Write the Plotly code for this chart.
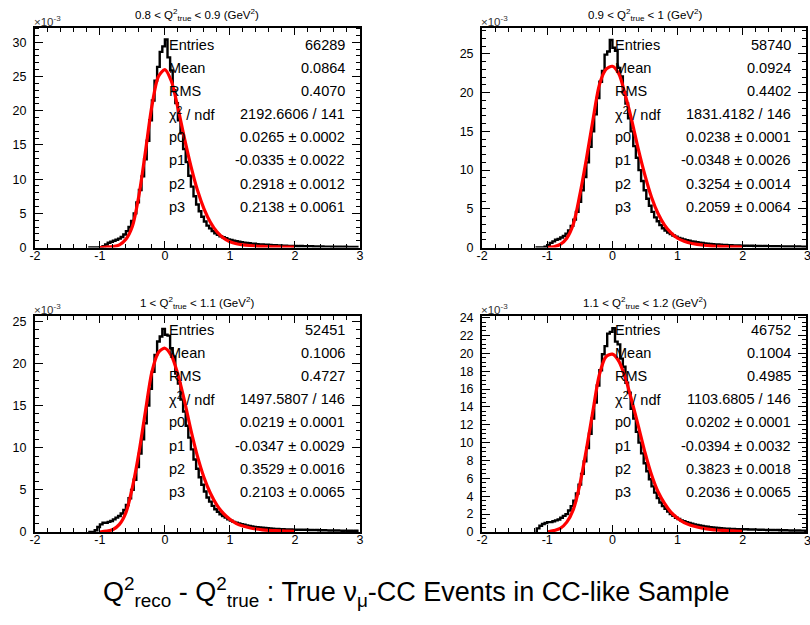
import plotly.graph_objects as go

# ---------------- data (values in units of 1e-3) ----------------
BIN_START = -1.2
BIN_WIDTH = 0.04

TL_COUNTS = [
    0, 0, 0, 0, 0, 0.05, 0.2, 0.45, 0.7, 0.85,
    1.0, 1.15, 1.3, 1.55, 1.9, 2.4, 3.0, 3.9, 5.0, 6.6,
    8.4, 10.4, 12.9, 15.6, 18.6, 21.5, 24.4, 26.4, 28.6, 29.4,
    30.4, 27.8, 25.9, 23.0, 21.1, 18.6, 16.7, 14.4, 12.5, 10.5,
    8.9, 7.5, 6.3, 5.3, 4.5, 3.8, 3.2, 2.8, 2.4, 2.1,
    1.85, 1.65, 1.5, 1.35, 1.2, 1.1, 1.0, 0.92, 0.85, 0.78,
    0.72, 0.68, 0.63, 0.58, 0.55, 0.5, 0.47, 0.44, 0.42, 0.4,
    0.37, 0.35, 0.33, 0.32, 0.3, 0.28, 0.27, 0.25, 0.24, 0.23,
    0.22, 0.2, 0.22, 0.19, 0.2, 0.17, 0.18, 0.16, 0.17, 0.15, 0.16, 0.14, 0.13,
    0.14, 0.12, 0.13, 0.11, 0.12, 0.1, 0.11, 0.09, 0.1, 0.09, 0.08, 0.09,
]
TR_COUNTS = [
    0, 0, 0, 0, 0.1, 0.3, 0.6, 0.8, 1.0, 1.1,
    1.3, 1.5, 1.8, 2.2, 2.8, 3.6, 4.6, 5.9, 7.4, 9.1,
    11.0, 13.0, 15.0, 17.2, 19.3, 21.4, 22.8, 24.9, 25.3, 26.8,
    25.8, 25.4, 23.2, 22.1, 20.1, 18.6, 16.7, 15.0, 13.1, 11.6,
    10.0, 8.6, 7.4, 6.3, 5.4, 4.6, 3.9, 3.4, 2.9, 2.5,
    2.2, 1.95, 1.75, 1.55, 1.4, 1.25, 1.15, 1.05, 0.95, 0.88,
    0.8, 0.74, 0.68, 0.63, 0.58, 0.54, 0.5, 0.47, 0.44, 0.41,
    0.39, 0.37, 0.35, 0.33, 0.31, 0.3, 0.28, 0.27, 0.26, 0.25,
    0.24, 0.25, 0.22, 0.23, 0.21, 0.22, 0.2, 0.19, 0.2, 0.18, 0.18, 0.17, 0.16,
    0.17, 0.15, 0.15, 0.14, 0.14, 0.13, 0.13, 0.12, 0.13, 0.12, 0.11, 0.11,
]
BL_COUNTS = [
    0, 0, 0, 0.2, 0.6, 0.9, 1.1, 1.1, 1.2, 1.3,
    1.5, 1.7, 1.9, 2.2, 2.6, 3.2, 4.0, 5.0, 6.2, 7.7,
    9.3, 11.0, 12.9, 15.0, 17.0, 19.0, 21.0, 22.6, 23.2, 24.1,
    23.4, 23.3, 21.8, 20.8, 18.8, 17.6, 15.7, 14.3, 12.6, 11.2,
    9.8, 8.6, 7.5, 6.5, 5.6, 4.8, 4.1, 3.6, 3.1, 2.7,
    2.4, 2.1, 1.9, 1.7, 1.5, 1.35, 1.2, 1.1, 1.0, 0.92,
    0.85, 0.78, 0.72, 0.66, 0.61, 0.57, 0.53, 0.5, 0.47, 0.44,
    0.41, 0.39, 0.37, 0.35, 0.34, 0.32, 0.31, 0.3, 0.29, 0.28,
    0.27, 0.28, 0.26, 0.25, 0.26, 0.24, 0.23, 0.22, 0.23, 0.21, 0.2, 0.21, 0.19,
    0.18, 0.19, 0.17, 0.17, 0.16, 0.15, 0.16, 0.14, 0.14, 0.13, 0.14, 0.13,
]
BR_COUNTS = [
    0.1, 0.4, 0.7, 0.9, 1.0, 1.1, 1.1, 1.2, 1.3, 1.4,
    1.6, 1.8, 2.0, 2.4, 2.9, 3.5, 4.3, 5.3, 6.5, 7.9,
    9.4, 11.0, 12.7, 14.5, 16.4, 18.1, 19.9, 20.8, 22.2, 22.4,
    22.8, 21.3, 21.0, 19.4, 18.5, 16.7, 15.6, 13.8, 12.7, 11.2,
    10.0, 8.8, 7.7, 6.8, 5.9, 5.1, 4.4, 3.8, 3.3, 2.9,
    2.6, 2.3, 2.0, 1.8, 1.6, 1.45, 1.3, 1.2, 1.1, 1.0,
    0.92, 0.85, 0.78, 0.72, 0.67, 0.62, 0.58, 0.54, 0.5, 0.47,
    0.44, 0.42, 0.4, 0.38, 0.36, 0.34, 0.33, 0.32, 0.31, 0.3,
    0.29, 0.3, 0.28, 0.27, 0.28, 0.26, 0.25, 0.26, 0.24, 0.23, 0.24, 0.22, 0.21,
    0.22, 0.2, 0.19, 0.2, 0.18, 0.17, 0.18, 0.16, 0.16, 0.15, 0.15, 0.14,
]

FIT_X = [-1.0, -0.9, -0.8, -0.7, -0.6, -0.5, -0.4, -0.3, -0.2, -0.1, 0.0,
         0.1, 0.2, 0.3, 0.4, 0.5, 0.6, 0.7, 0.8, 0.9, 1.0,
         1.1, 1.2, 1.3, 1.4, 1.5, 1.6, 1.7, 1.8, 1.9, 2.0]
TL_FIT = [0.0, 0.05, 0.15, 0.4, 1.2, 3.1, 7.6, 14.0, 20.7, 25.0, 26.0,
          24.3, 20.4, 16.0, 11.9, 8.4, 5.7, 3.7, 2.3, 1.4, 0.85,
          0.55, 0.4, 0.3, 0.22, 0.17, 0.13, 0.1, 0.08, 0.06, 0.05]
TR_FIT = [0.0, 0.1, 0.4, 1.2, 3.0, 6.8, 11.4, 16.4, 21.0, 23.0, 23.4,
          22.4, 19.6, 16.3, 12.6, 9.3, 6.5, 4.4, 2.9, 1.9, 1.2,
          0.8, 0.55, 0.4, 0.3, 0.22, 0.17, 0.13, 0.1, 0.08, 0.06]
BL_FIT = [0.0, 0.1, 0.3, 0.9, 2.3, 5.3, 9.4, 14.3, 19.0, 21.3, 21.8,
          20.9, 18.7, 15.6, 12.1, 9.0, 6.5, 4.6, 3.2, 2.2, 1.5,
          1.0, 0.7, 0.5, 0.35, 0.26, 0.2, 0.15, 0.12, 0.1, 0.08]
BR_FIT = [0.0, 0.15, 0.4, 1.1, 2.5, 5.3, 9.2, 13.5, 17.6, 19.6, 19.9,
          19.1, 17.2, 14.6, 11.8, 8.9, 6.4, 4.5, 3.2, 2.2, 1.55,
          1.05, 0.75, 0.55, 0.4, 0.3, 0.22, 0.17, 0.13, 0.1, 0.08]

X_TICKS = [-2, -1, 0, 1, 2, 3]
X_TICK_LABELS = ["-2", "-1", "0", "1", "2", "3"]

TITLES = [
    "0.8 &lt; Q<sup>2</sup><sub>true</sub> &lt; 0.9 (GeV<sup>2</sup>)",
    "0.9 &lt; Q<sup>2</sup><sub>true</sub> &lt; 1 (GeV<sup>2</sup>)",
    "1 &lt; Q<sup>2</sup><sub>true</sub> &lt; 1.1 (GeV<sup>2</sup>)",
    "1.1 &lt; Q<sup>2</sup><sub>true</sub> &lt; 1.2 (GeV<sup>2</sup>)",
]
STAT_LABELS = ["Entries", "Mean", "RMS", "χ<sup>2</sup> / ndf", "p0", "p1", "p2", "p3"]
TL_STATS = ["66289", "0.0864", "0.4070", "2192.6606 / 141", "0.0265 ± 0.0002",
            "-0.0335 ± 0.0022", "0.2918 ± 0.0012", "0.2138 ± 0.0061"]
TR_STATS = ["58740", "0.0924", "0.4402", "1831.4182 / 146", "0.0238 ± 0.0001",
            "-0.0348 ± 0.0026", "0.3254 ± 0.0014", "0.2059 ± 0.0064"]
BL_STATS = ["52451", "0.1006", "0.4727", "1497.5807 / 146", "0.0219 ± 0.0001",
            "-0.0347 ± 0.0029", "0.3529 ± 0.0016", "0.2103 ± 0.0065"]
BR_STATS = ["46752", "0.1004", "0.4985", "1103.6805 / 146", "0.0202 ± 0.0001",
            "-0.0394 ± 0.0032", "0.3823 ± 0.0018", "0.2036 ± 0.0065"]
MAIN_TITLE = ("Q<sup>2</sup><sub>reco</sub> - Q<sup>2</sup><sub>true</sub> : "
              "True ν<sub>μ</sub>-CC Events in CC-like Sample")

# ---------------- layout geometry (pixels) ----------------
W, H = 810, 625
FONT = "Liberation Sans, Arial, sans-serif"


def px(x):
    return x / W


def py(y):
    return 1 - y / H


panels = [
    dict(counts=TL_COUNTS, fit=TL_FIT, stats=TL_STATS, title=TITLES[0],
         left=29.3, right=358.3, top=23.0, bottom=247.3, xr=[-2, 3], ymax=32.15, dt=5, mdt=1,
         lab_x=163, val_x=345, row0=41.0, rstep=23.5),
    dict(counts=TR_COUNTS, fit=TR_FIT, stats=TR_STATS, title=TITLES[1],
         left=482.0, right=810.0, top=23.0, bottom=247.3, xr=[-2, 2.97], ymax=28.4, dt=5, mdt=1,
         lab_x=615, val_x=797, row0=41.0, rstep=23.5),
    dict(counts=BL_COUNTS, fit=BL_FIT, stats=BL_STATS, title=TITLES[2],
         left=29.3, right=358.3, top=317.3, bottom=537.3, xr=[-2, 3], ymax=25.6, dt=5, mdt=1,
         lab_x=163, val_x=345, row0=331.0, rstep=23.65),
    dict(counts=BR_COUNTS, fit=BR_FIT, stats=BR_STATS, title=TITLES[3],
         left=482.0, right=810.0, top=317.3, bottom=537.3, xr=[-2, 2.97], ymax=24.15, dt=2, mdt=0.5,
         lab_x=615, val_x=797, row0=331.0, rstep=23.65),
]

fig = go.Figure()
annotations = []
layout = {}

for i, p in enumerate(panels):
    n = "" if i == 0 else str(i + 1)
    xa, ya = "x" + n, "y" + n
    centers = [BIN_START + BIN_WIDTH * (k + 0.5) for k in range(len(p["counts"]))]
    fig.add_trace(go.Scatter(x=centers, y=p["counts"], xaxis=xa, yaxis=ya, mode="lines",
                             line=dict(color="black", width=2.4, shape="hvh"),
                             showlegend=False, hoverinfo="skip"))
    fig.add_trace(go.Scatter(x=FIT_X, y=p["fit"], xaxis=xa, yaxis=ya, mode="lines",
                             line=dict(color="#ff0000", width=3.2, shape="spline", smoothing=0.8),
                             showlegend=False, hoverinfo="skip"))
    common = dict(showgrid=False, zeroline=False, showline=True, linewidth=2, linecolor="black",
                  mirror="allticks", ticks="inside", tickcolor="black", tickwidth=1,
                  tickfont=dict(family=FONT, size=12.5, color="black"))
    layout["xaxis" + n] = dict(common, domain=[px(p["left"]), min(1.0, px(p["right"]))],
                               range=p["xr"], anchor=ya, tickmode="array",
                               tickvals=X_TICKS, ticktext=X_TICK_LABELS, ticklen=7,
                               minor=dict(dtick=0.2, tick0=0, ticklen=4, ticks="inside",
                                          tickcolor="black"),
                               ticklabelstandoff=-5)
    layout["yaxis" + n] = dict(common, domain=[py(p["bottom"]), py(p["top"])],
                               range=[0, p["ymax"]], anchor=xa, dtick=p["dt"], tick0=0, ticklen=8,
                               minor=dict(dtick=p["mdt"], ticklen=4, ticks="inside",
                                          tickcolor="black"),
                               ticklabelstandoff=4)
    # panel title
    annotations.append(dict(xref="paper", yref="paper",
                            x=px(p["left"] + 164.5),
                            y=py(p["top"] - 13), text=p["title"], showarrow=False,
                            xanchor="center", yanchor="middle",
                            font=dict(family=FONT, size=11.5, color="black")))
    # x10^-3 label
    annotations.append(dict(xref="paper", yref="paper", x=px(p["left"] - 3), y=py(p["top"] - 7),
                            text="×10<sup>-3</sup>", showarrow=False, xanchor="left",
                            yanchor="middle", font=dict(family=FONT, size=11.5, color="#333")))
    # stats box
    for r, (lab, val) in enumerate(zip(STAT_LABELS, p["stats"])):
        yy = py(p["row0"] + r * p["rstep"])
        annotations.append(dict(xref="paper", yref="paper", x=px(p["lab_x"]), y=yy, text=lab,
                                showarrow=False, xanchor="left", yanchor="middle",
                                font=dict(family=FONT, size=14.5, color="black")))
        annotations.append(dict(xref="paper", yref="paper", x=px(p["val_x"]), y=yy, text=val,
                                showarrow=False, xanchor="right", yanchor="middle",
                                font=dict(family=FONT, size=14.5, color="black")))
    if p["xr"][1] < 3:
        annotations.append(dict(xref="paper", yref="paper", x=px(p["left"] + 5 * 66),
                                y=py(p["bottom"] + 9), text="3", showarrow=False,
                                xanchor="center", yanchor="middle",
                                font=dict(family=FONT, size=12.5, color="black")))

annotations.append(dict(xref="paper", yref="paper", x=px(415), y=py(598), text=MAIN_TITLE,
                        showarrow=False, xanchor="center", yanchor="middle",
                        font=dict(family=FONT, size=27, color="black")))

fig.update_layout(width=W, height=H, margin=dict(l=0, r=0, t=0, b=0),
                  paper_bgcolor="white", plot_bgcolor="white",
                  annotations=annotations, **layout)

fig.write_html("out.html", config={"displayModeBar": False},
               post_script="document.body.style.margin='0px';document.body.style.padding='0px';")
